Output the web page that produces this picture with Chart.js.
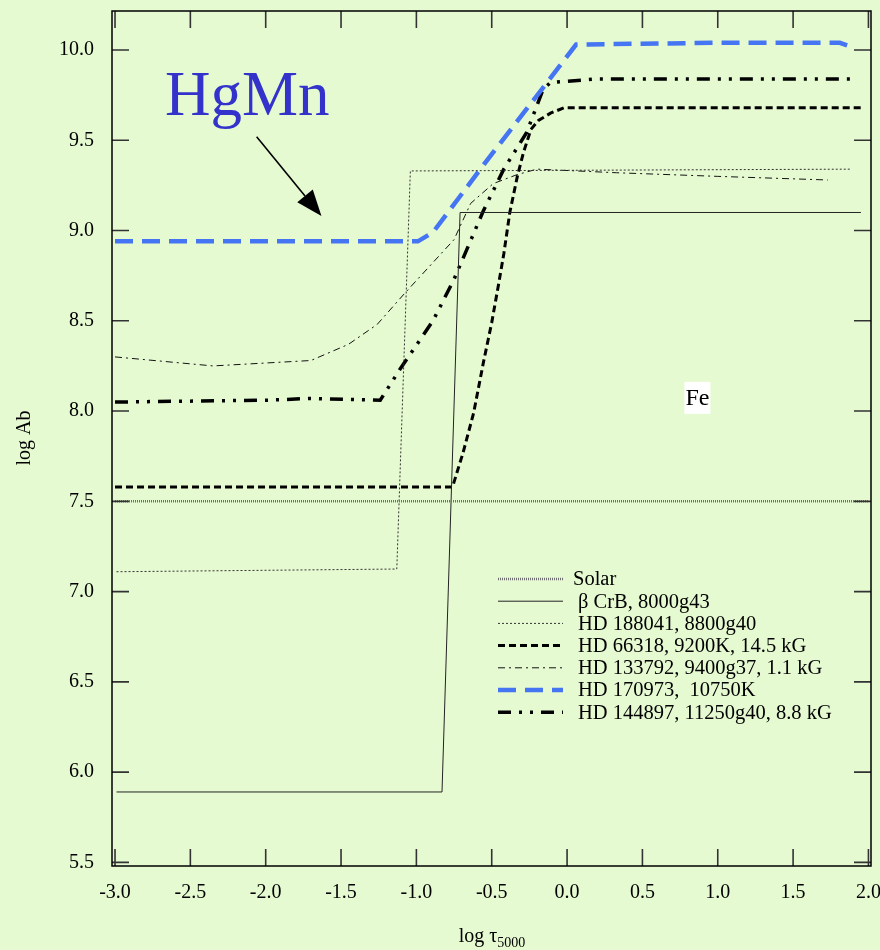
<!DOCTYPE html>
<html>
<head>
<meta charset="utf-8">
<script src="https://cdn.jsdelivr.net/npm/chart.js@4.4.0/dist/chart.umd.min.js"></script>
<style>
html, body { margin: 0; padding: 0; background: #e6fad2; }
canvas { display: block; }
</style>
</head>
<body>
<canvas id="feChart" width="880" height="950"></canvas>
<script>
// tick values
const xTicks = [-3.0, -2.5, -2.0, -1.5, -1.0, -0.5, 0.0, 0.5, 1.0, 1.5, 2.0];
const yTicks = [5.5, 6.0, 6.5, 7.0, 7.5, 8.0, 8.5, 9.0, 9.5, 10.0];

// series (log tau, log Ab)
const solarX = [-3.0, 2.0];
const solarY = [7.5, 7.5];

const crbX = [-2.99, -0.83, -0.71, 1.95];
const crbY = [5.89, 5.89, 9.10, 9.10];

const hd188041X = [-2.99, -1.13, -1.04, 1.88];
const hd188041Y = [7.11, 7.125, 9.33, 9.34];

const hd66318X = [-3.0, -0.76, -0.69, -0.62, -0.555, -0.50, -0.455, -0.42, -0.38, -0.33, -0.29, -0.24, -0.19, -0.11, -0.02, 1.95];
const hd66318Y = [7.58, 7.58, 7.77, 7.99, 8.27, 8.49, 8.70, 8.87, 9.10, 9.30, 9.43, 9.56, 9.61, 9.65, 9.68, 9.68];

const hd133792X = [-3.0, -2.35, -1.70, -1.45, -1.26, -1.08, -0.75, -0.64, -0.49, -0.33, -0.20, 0.33, 1.0, 1.73];
const hd133792Y = [8.30, 8.25, 8.28, 8.37, 8.48, 8.65, 8.95, 9.15, 9.26, 9.31, 9.34, 9.32, 9.30, 9.28];

const hd170973X = [-3.0, -0.99, -0.89, -0.53, -0.05, 0.06, 1.0, 1.81, 1.88];
const hd170973Y = [8.94, 8.94, 8.99, 9.39, 9.91, 10.03, 10.04, 10.04, 10.02];

const hd144897X = [-3.0, -2.0, -1.7, -1.24, -1.11, -0.89, -0.75, -0.555, -0.42, -0.27, -0.16, -0.11, 0.2, 1.91];
const hd144897Y = [8.05, 8.06, 8.07, 8.06, 8.23, 8.50, 8.73, 9.11, 9.34, 9.54, 9.78, 9.82, 9.84, 9.84];

const serif = "'Liberation Serif', 'Times New Roman', serif";

function pts(xs, ys) {
    return xs.map((x, i) => ({ x: x, y: ys[i] }));
}

function line(label, xs, ys, color, width, dash) {
    return {
        label: label,
        data: pts(xs, ys),
        borderColor: color,
        borderWidth: width,
        borderDash: dash,
        pointRadius: 0,
        fill: false,
        tension: 0
    };
}

// frame + inward ticks on all four sides
const framePlugin = {
    id: 'frame',
    afterDatasetsDraw(chart) {
        const ctx = chart.ctx;
        const a = chart.chartArea;
        const sx = chart.scales.x, sy = chart.scales.y;
        const len = 17;
        ctx.save();
        ctx.strokeStyle = '#333';
        ctx.lineWidth = 1.6;
        ctx.beginPath();
        xTicks.forEach(v => {
            const p = sx.getPixelForValue(v);
            ctx.moveTo(p, a.bottom); ctx.lineTo(p, a.bottom - len);
            ctx.moveTo(p, a.top); ctx.lineTo(p, a.top + len);
        });
        yTicks.forEach(v => {
            const p = sy.getPixelForValue(v);
            ctx.moveTo(a.left, p); ctx.lineTo(a.left + len, p);
            ctx.moveTo(a.right, p); ctx.lineTo(a.right - len, p);
        });
        ctx.stroke();
        ctx.strokeStyle = '#000';
        ctx.lineWidth = 1.5;
        ctx.strokeRect(a.left, a.top, a.right - a.left, a.bottom - a.top);
        ctx.restore();
    }
};

// axis titles, annotations and legend
const notesPlugin = {
    id: 'notes',
    afterDraw(chart) {
        const ctx = chart.ctx;
        const sx = chart.scales.x, sy = chart.scales.y;
        ctx.save();
        ctx.fillStyle = '#000';

        // y title
        ctx.save();
        ctx.translate(30, 438);
        ctx.rotate(-Math.PI / 2);
        ctx.font = '20px ' + serif;
        ctx.textAlign = 'center';
        ctx.textBaseline = 'alphabetic';
        ctx.fillText('log Ab', 0, 0);
        ctx.restore();

        // x title with subscript
        ctx.font = '20px ' + serif;
        ctx.textAlign = 'left';
        ctx.textBaseline = 'alphabetic';
        const main = 'log \u03c4';
        const w1 = ctx.measureText(main).width;
        ctx.font = '14px ' + serif;
        const w2 = ctx.measureText('5000').width;
        const x0 = 492 - (w1 + w2) / 2;
        ctx.font = '20px ' + serif;
        ctx.fillText(main, x0, 942);
        ctx.font = '14px ' + serif;
        ctx.fillText('5000', x0 + w1, 947);

        // HgMn label and arrow
        ctx.fillStyle = '#3333cc';
        ctx.font = '63px ' + serif;
        ctx.fillText('HgMn', sx.getPixelForValue(-2.668), sy.getPixelForValue(9.64));

        const ax1 = sx.getPixelForValue(-2.06), ay1 = sy.getPixelForValue(9.52);
        const ax2 = sx.getPixelForValue(-1.63), ay2 = sy.getPixelForValue(9.08);
        const ang = Math.atan2(ay2 - ay1, ax2 - ax1);
        const hl = 26, hw = 10;
        ctx.strokeStyle = '#000';
        ctx.fillStyle = '#000';
        ctx.lineWidth = 1.6;
        ctx.beginPath();
        ctx.moveTo(ax1, ay1);
        ctx.lineTo(ax2 - hl * Math.cos(ang), ay2 - hl * Math.sin(ang));
        ctx.stroke();
        ctx.beginPath();
        ctx.moveTo(ax2, ay2);
        ctx.lineTo(ax2 - hl * Math.cos(ang) + hw * Math.sin(ang), ay2 - hl * Math.sin(ang) - hw * Math.cos(ang));
        ctx.lineTo(ax2 - hl * Math.cos(ang) - hw * Math.sin(ang), ay2 - hl * Math.sin(ang) + hw * Math.cos(ang));
        ctx.closePath();
        ctx.fill();

        // Fe label on white box
        ctx.font = '24px ' + serif;
        ctx.textAlign = 'center';
        ctx.textBaseline = 'middle';
        const fx = sx.getPixelForValue(0.865), fy = sy.getPixelForValue(8.073);
        const fw = ctx.measureText('Fe').width;
        ctx.fillStyle = '#fff';
        ctx.fillRect(fx - fw / 2 - 1, fy - 16, fw + 2, 32);
        ctx.fillStyle = '#000';
        ctx.fillText('Fe', fx, fy + 1);

        // legend
        const lx1 = 498, lx2 = 563, top = 579, step = 22.2;
        ctx.font = '20.5px ' + serif;
        ctx.textAlign = 'left';
        chart.data.datasets.forEach((ds, i) => {
            const y = top + i * step;
            ctx.save();
            ctx.strokeStyle = ds.borderColor;
            ctx.lineWidth = ds.borderWidth;
            ctx.setLineDash(ds.borderDash || []);
            ctx.beginPath();
            ctx.moveTo(lx1, y);
            ctx.lineTo(lx2, y);
            ctx.stroke();
            ctx.restore();
            ctx.fillStyle = '#000';
            ctx.fillText(ds.label, i === 0 ? 573 : 578, y + 1);
        });
        ctx.restore();
    }
};

function makeChart() {
    const ctx = document.getElementById('feChart').getContext('2d');
    new Chart(ctx, {
        type: 'line',
        data: {
            datasets: [
                line('Solar', solarX, solarY, '#6f6f6f', 2.5, [1, 1]),
                line('\u03b2 CrB, 8000g43', crbX, crbY, '#222', 1, []),
                line('HD 188041, 8800g40', hd188041X, hd188041Y, '#333', 1, [2, 2]),
                line('HD 66318, 9200K, 14.5 kG', hd66318X, hd66318Y, '#000', 3, [7, 4]),
                line('HD 133792, 9400g37, 1.1 kG', hd133792X, hd133792Y, '#111', 1, [7, 4, 2, 4]),
                line('HD 170973,  10750K', hd170973X, hd170973Y, '#4575f2', 4.5, [18, 9]),
                line('HD 144897, 11250g40, 8.8 kG', hd144897X, hd144897Y, '#000', 3.5, [13, 8, 3, 8, 3, 8])
            ]
        },
        options: {
            responsive: false,
            animation: false,
            devicePixelRatio: 1,
            layout: { padding: { top: 11, right: 9, left: 0, bottom: 0 } },
            plugins: {
                legend: { display: false },
                tooltip: { enabled: false }
            },
            scales: {
                x: {
                    type: 'linear',
                    min: -3.02,
                    max: 2.017,
                    afterBuildTicks: axis => { axis.ticks = xTicks.map(v => ({ value: v })); },
                    afterFit: axis => {
                        axis.height = 84;
                        axis.paddingLeft = 0;
                        axis.paddingRight = 0;
                    },
                    ticks: {
                        callback: v => v.toFixed(1),
                        font: { family: serif, size: 20 },
                        color: '#000',
                        padding: 7,
                        maxRotation: 0,
                        autoSkip: false
                    },
                    grid: { display: false },
                    border: { display: false }
                },
                y: {
                    type: 'linear',
                    min: 5.48,
                    max: 10.216,
                    afterBuildTicks: axis => { axis.ticks = yTicks.map(v => ({ value: v })); },
                    afterFit: axis => {
                        axis.width = 112;
                        axis.paddingTop = 0;
                        axis.paddingBottom = 0;
                    },
                    ticks: {
                        callback: v => v.toFixed(1),
                        font: { family: serif, size: 20 },
                        color: '#000',
                        padding: 10,
                        autoSkip: false
                    },
                    grid: { display: false },
                    border: { display: false }
                }
            }
        },
        plugins: [framePlugin, notesPlugin]
    });
}

makeChart();
</script>
</body>
</html>
